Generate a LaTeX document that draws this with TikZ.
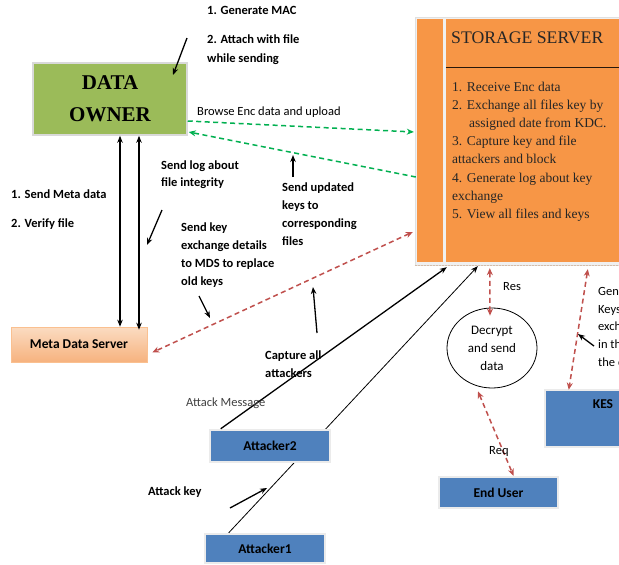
\documentclass[tikz,border=0pt]{standalone}
\usepackage{fontspec}
\setmainfont{Carlito}
\newfontfamily\tnr{Liberation Serif}
\usetikzlibrary{arrows.meta,shapes.geometric}
\definecolor{ogreen}{HTML}{9BBB59}
\definecolor{oorange}{HTML}{F79646}
\definecolor{oblue}{HTML}{4F81BD}
\definecolor{ored}{HTML}{C0504D}
\definecolor{dgreen}{HTML}{00B050}
\definecolor{mdstop}{HTML}{FBDCC2}
\definecolor{mdsbot}{HTML}{F6B27E}
\definecolor{sstext}{HTML}{262626}
\begin{document}
\begin{tikzpicture}[x=1pt,y=-1pt,
  lbl/.style={font=\fontsize{12.5}{18}\selectfont\bfseries, align=left, inner sep=0pt, anchor=north west},
  rlbl/.style={font=\fontsize{12.5}{18}\selectfont, align=left, inner sep=0pt, anchor=north west},
  bluebox/.style={rectangle, fill=oblue, draw=black!8, line width=2.5pt, inner sep=0pt, font=\fontsize{13.5}{16}\selectfont\bfseries},
  ann/.style={-{Stealth[length=7pt,width=5.5pt]}, line width=1.3pt},
  gdash/.style={draw=dgreen, line width=1.5pt, dash pattern=on 5pt off 3.5pt, -{Stealth[length=7pt,width=6pt]}},
  rdash/.style={draw=ored, line width=1.5pt, dash pattern=on 5pt off 3.5pt, {Stealth[length=7pt,width=6pt]}-{Stealth[length=7pt,width=6pt]}},
  blk/.style={line width=1.2pt, {Stealth[length=7pt,width=5.5pt]}-{Stealth[length=7pt,width=5.5pt]}},
]
\path[use as bounding box, fill=white] (0,0) rectangle (619,565);
\clip (0,0) rectangle (619,565);

% ---------- Storage server ----------
\node[rectangle, fill=black!6, draw=black!12, line width=0.6pt, minimum width=230pt, minimum height=248pt, inner sep=0pt] (ssframe) at (530,141) {};
\draw[oorange!60!black!40, line width=1pt, dash pattern=on 2pt off 1pt] (ssframe.south west) -- (ssframe.south east);
\node[rectangle, fill=oorange, minimum width=26pt, minimum height=243pt, inner sep=0pt] (ssl) at (430,140.5) {};
\node[rectangle, fill=oorange, minimum width=194pt, minimum height=243pt, inner sep=0pt] (ss) at (543,140.5) {};
\draw[line width=1pt, black!60!oorange!40!black] ([yshift=-49pt]ss.north west) -- ([yshift=-49pt]ss.north east);
\node[font=\tnr\fontsize{17.7}{20}\selectfont, text=sstext, inner sep=0pt, anchor=west] (sstitle) at (451,38) {STORAGE SERVER};
\node[font=\tnr\fontsize{13.5}{18.1}\selectfont, text=sstext, align=left, inner sep=0pt, anchor=north west] (sslist) at (452,82) {1. Receive Enc data\\2. Exchange all files key by\\\hspace*{17pt}assigned date from KDC.\\3. Capture key and file\\attackers and block\\4. Generate log about key\\exchange\\5. View all files and keys};

% ---------- Data owner ----------
\node[rectangle, fill=ogreen, draw=black!15, line width=1.5pt, minimum width=154pt, minimum height=72pt, inner sep=0pt,
      align=center, font=\tnr\bfseries\fontsize{21}{32}\selectfont] (do) at (110,99) {DATA\\OWNER};

% ---------- Meta data server ----------
\node[rectangle, top color=mdstop, bottom color=mdsbot, draw=oorange!60, line width=0.6pt, minimum width=136pt, minimum height=35pt, inner sep=0pt,
      font=\fontsize{13.5}{16}\selectfont\bfseries] (mds) at (79,344.5) {Meta Data Server};

% ---------- Ellipse ----------
\node[ellipse, draw=black, line width=0.8pt, fill=white, minimum width=90pt, minimum height=80pt, inner sep=0pt,
      align=center, font=\fontsize{13}{18}\selectfont] (dec) at (492,348) {Decrypt\\and send\\data};

% ---------- Blue boxes ----------
\node[bluebox, minimum width=120pt, minimum height=29pt] (att1) at (265,548.5) {Attacker1};
\draw[line width=0.8pt, -{Stealth[length=7pt,width=5.5pt]}] ([xshift=25pt]att1.north west) -- ([xshift=32pt,yshift=-4pt]ss.south west);
\node[bluebox, minimum width=120pt, minimum height=32pt] (att2) at (270,446) {Attacker2};
\node[bluebox, minimum width=119pt, minimum height=31pt] (eu) at (498.5,492.5) {End User};
\node[bluebox, minimum width=116pt, minimum height=57pt] (kes) at (603,418.5) {};
\node[font=\fontsize{13.5}{16}\selectfont\bfseries, inner sep=0pt] (kestext) at (603,404) {KES};

% ---------- Connectors ----------
\draw[blk] ([xshift=10pt]do.south) -- ([xshift=41pt]mds.north);
\draw[blk] ([xshift=29pt]do.south) -- ([xshift=60pt,yshift=-3pt]mds.north);
\draw[gdash] ([yshift=-22pt]do.east) -- ([xshift=-3pt,yshift=8.5pt]ssl.west);
\draw[gdash] ([xshift=-1pt,yshift=-36.5pt]ssl.west) -- ([xshift=1pt,yshift=-33pt]do.east);
\draw[rdash] ([xshift=-4pt,yshift=-91.5pt]ssl.west) -- ([xshift=5pt,yshift=-8pt]mds.east);
\draw[line width=1.3pt, -{Stealth[length=7pt,width=5.5pt]}] ([xshift=12pt]att2.north west) -- ([xshift=1pt,yshift=-5pt]ss.south west);
\draw[rdash] ([xshift=44pt,yshift=-6pt]ss.south west) -- ([xshift=-2pt,yshift=-8pt]dec.north);
\draw[rdash] ([xshift=-14pt,yshift=-3pt]dec.south) -- ([xshift=15pt]eu.north);
\draw[rdash] ([xshift=142pt,yshift=-7pt]ss.south west) -- ([xshift=25pt,yshift=-1pt]kes.north west);

% ---------- Labels ----------
\node[lbl] (t1) at (207,6) {1. Generate MAC};
\node[lbl, font=\fontsize{12.5}{19}\selectfont\bfseries] (t2) at (207,35) {2. Attach with file\\while sending};
\node[rlbl] (browse) at (197,107) {Browse Enc data and upload};
\node[lbl, font=\fontsize{12.5}{17}\selectfont\bfseries] (sendlog) at (161,161) {Send log about\\file integrity};
\node[lbl] (meta1) at (11,190) {1. Send Meta data};
\node[lbl] (meta2) at (11,219) {2. Verify file};
\node[lbl, font=\fontsize{12.5}{17.7}\selectfont\bfseries] (sendkey) at (181,223) {Send key\\exchange details\\to MDS to replace\\old keys};
\node[lbl] (sendupd) at (282,183) {Send updated\\keys to\\corresponding\\files};
\node[lbl, font=\fontsize{12.5}{17.5}\selectfont\bfseries] (capture) at (265,351) {Capture all\\attackers};
\node[rlbl, text=black!75] (attmsg) at (186,398) {Attack Message};
\node[lbl] (attkey) at (148,487) {Attack key};
\node[rlbl] (res) at (503,282) {Res};
\node[rlbl] (req) at (489,446) {Req};
\node[rlbl, font=\fontsize{12.5}{17.7}\selectfont] (gen) at (598,287) {Generate\\Keys\\exchange\\in the\\the cloud};

% ---------- Annotation arrows ----------
\coordinate (macA) at (187,38);  \coordinate (macB) at (173,75);
\coordinate (logA) at (162,210); \coordinate (logB) at (147,245);
\coordinate (keyA) at (199,296); \coordinate (keyB) at (210,318);
\coordinate (updA) at (293,177); \coordinate (updB) at (293,155);
\coordinate (capA) at (317,333); \coordinate (capB) at (313,287);
\coordinate (akA) at (230,508);  \coordinate (akB) at (267,488);
\coordinate (genA) at (594,346); \coordinate (genB) at (578,334);
\draw[ann] (macA) -- (macB);
\draw[ann] (logA) -- (logB);
\draw[ann] (keyA) -- (keyB);
\draw[ann] (updA) -- (updB);
\draw[ann] (capA) -- (capB);
\draw[ann] (akA) -- (akB);
\draw[ann] (genA) -- (genB);
\end{tikzpicture}
\end{document}
